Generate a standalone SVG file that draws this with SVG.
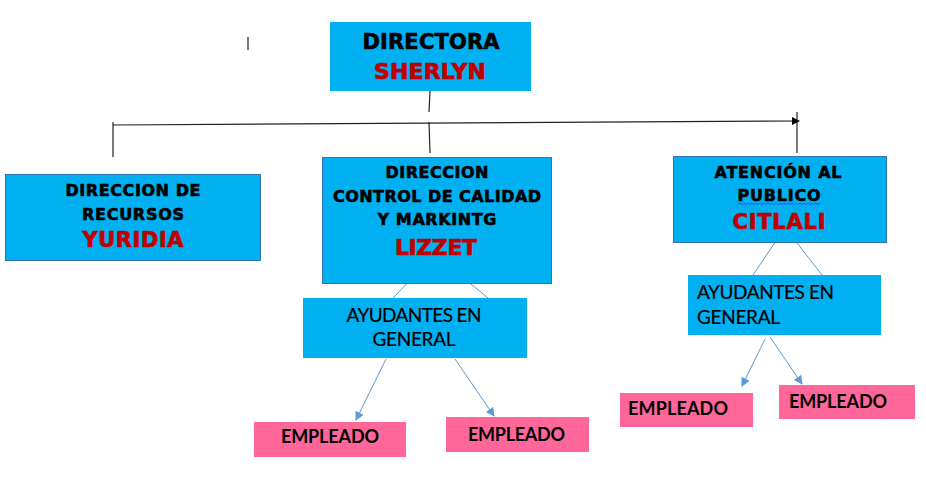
<svg xmlns="http://www.w3.org/2000/svg" width="926" height="487" viewBox="0 0 926 487">
<style>
.blue{fill:#00b0f0}
.bord{stroke:#2e75b6;stroke-width:1}
.pink{fill:#ff6699}
.h{font-family:"DejaVu Sans","Liberation Sans",sans-serif;font-weight:bold;fill:#000;stroke:#000;stroke-width:0.6}
.r{font-family:"DejaVu Sans","Liberation Sans",sans-serif;font-weight:bold;fill:#c00000;stroke:#c00000;stroke-width:0.7}
.c{font-family:Lato,"Open Sans","Liberation Sans",sans-serif;fill:#000;stroke:#000;stroke-width:0.2}
.cb{font-family:Lato,"Open Sans","Liberation Sans",sans-serif;font-weight:bold;fill:#000;font-size:18px}
.k{stroke:#222;stroke-width:1.2;fill:none}
.lb{stroke:#5b9bd5;stroke-width:1;fill:none}
</style>
<defs>
<marker id="ak" markerWidth="8" markerHeight="8" refX="7" refY="4" orient="auto" markerUnits="userSpaceOnUse"><path d="M0,0 L8,4 L0,8 Z" fill="#000"/></marker>
<marker id="ab" markerWidth="9" markerHeight="9" refX="8" refY="4.5" orient="auto" markerUnits="userSpaceOnUse"><path d="M0,0 L9,4.5 L0,9 Z" fill="#5b9bd5"/></marker>
</defs>
<rect width="926" height="487" fill="#fff"/>

<g id="connectors">
<line x1="248" y1="37" x2="248" y2="50" class="k"/>
<line x1="430" y1="91" x2="429" y2="112" class="k"/>
<line x1="113" y1="125" x2="799" y2="121" class="k" marker-end="url(#ak)"/>
<line x1="113" y1="122" x2="113" y2="157" class="k"/>
<line x1="429" y1="122" x2="430" y2="153" class="k"/>
<line x1="797" y1="112" x2="797" y2="153" class="k"/>
<line x1="437" y1="240" x2="437" y2="273" class="k"/>
<line x1="417" y1="273" x2="393" y2="298" class="lb"/>
<line x1="456" y1="272" x2="488" y2="298" class="lb"/>
<line x1="780" y1="235" x2="753" y2="275" class="lb"/>
<line x1="790" y1="234" x2="822" y2="275" class="lb"/>
<line x1="386" y1="359" x2="356" y2="420" class="lb" marker-end="url(#ab)"/>
<line x1="455" y1="359" x2="494" y2="416" class="lb" marker-end="url(#ab)"/>
<line x1="765" y1="339" x2="742" y2="386" class="lb" marker-end="url(#ab)"/>
<line x1="770" y1="337" x2="802" y2="384" class="lb" marker-end="url(#ab)"/>
</g>

<g id="directora">
<rect x="330" y="22" width="201" height="69" class="blue"/>
<text x="431" y="49" class="h" font-size="21" text-anchor="middle" textLength="137">DIRECTORA</text>
<text x="430" y="79" class="r" font-size="22" text-anchor="middle" textLength="112">SHERLYN</text>
</g>

<g id="recursos">
<rect x="5.5" y="174.5" width="255" height="86" class="blue bord"/>
<text x="133" y="196" class="h" font-size="16" text-anchor="middle" textLength="135">DIRECCION DE</text>
<text x="133" y="220" class="h" font-size="16" text-anchor="middle" textLength="102">RECURSOS</text>
<text x="133" y="247" class="r" font-size="21" text-anchor="middle" textLength="101">YURIDIA</text>
</g>

<g id="calidad">
<rect x="322.5" y="157.5" width="229" height="126" class="blue bord"/>
<text x="437" y="178" class="h" font-size="16" text-anchor="middle" textLength="103">DIRECCION</text>
<text x="437" y="202" class="h" font-size="16" text-anchor="middle" textLength="208">CONTROL DE CALIDAD</text>
<text x="437" y="225" class="h" font-size="16" text-anchor="middle" textLength="119">Y MARKINTG</text>
<text x="436" y="255" class="r" font-size="22" text-anchor="middle" textLength="82">LIZZET</text>
</g>

<g id="atencion">
<rect x="673.5" y="156.5" width="213" height="86" class="blue bord"/>
<text x="778" y="178" class="h" font-size="16" text-anchor="middle" textLength="127">ATENCIÓN AL</text>
<text x="779" y="201" class="h" font-size="16" text-anchor="middle" textLength="83">PUBLICO</text>
<path d="M738,204.5 l2,-1.5 l2,1.5 l2,-1.5 l2,1.5 l2,-1.5 l2,1.5 l2,-1.5 l2,1.5 l2,-1.5 l2,1.5 l2,-1.5 l2,1.5 l2,-1.5 l2,1.5 l2,-1.5 l2,1.5 l2,-1.5 l2,1.5 l2,-1.5 l2,1.5 l2,-1.5 l2,1.5 l2,-1.5 l2,1.5 l2,-1.5 l2,1.5 l2,-1.5 l2,1.5 l2,-1.5 l2,1.5 l2,-1.5 l2,1.5 l2,-1.5 l2,1.5 l2,-1.5 l2,1.5 l2,-1.5 l2,1.5 l2,-1.5 l2,1.5 l2,-1.5" fill="none" stroke="#3333ff" stroke-width="0.8"/>
<text x="779" y="229" class="r" font-size="21" text-anchor="middle" textLength="93">CITLALI</text>
</g>

<g id="ayudantes1">
<rect x="303" y="298" width="224" height="60" class="blue"/>
<text x="414" y="322" class="c" font-size="19" text-anchor="middle" textLength="135">AYUDANTES EN</text>
<text x="414" y="346" class="c" font-size="19" text-anchor="middle" textLength="83">GENERAL</text>
</g>

<g id="ayudantes2">
<rect x="688" y="275" width="193" height="60" class="blue"/>
<text x="697" y="299" class="c" font-size="19" textLength="137">AYUDANTES EN</text>
<text x="697" y="324" class="c" font-size="19" textLength="83">GENERAL</text>
</g>

<g id="empleado1">
<rect x="254" y="422" width="152" height="35" class="pink"/>
<text x="281" y="443" class="cb" textLength="98">EMPLEADO</text>
</g>
<g id="empleado2">
<rect x="446" y="417" width="143" height="35" class="pink"/>
<text x="468" y="441" class="cb" textLength="97">EMPLEADO</text>
</g>
<g id="empleado3">
<rect x="620" y="393" width="133" height="34" class="pink"/>
<text x="628" y="415" class="cb" textLength="100">EMPLEADO</text>
</g>
<g id="empleado4">
<rect x="779" y="385" width="136" height="34" class="pink"/>
<text x="789" y="408" class="cb" textLength="98">EMPLEADO</text>
</g>
</svg>
